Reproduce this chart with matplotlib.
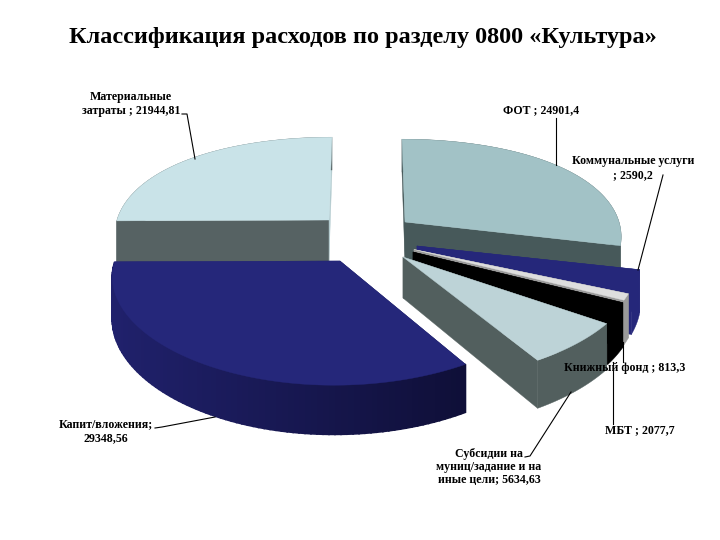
import numpy as np
import matplotlib
matplotlib.use("Agg")
import matplotlib.pyplot as plt
from matplotlib.patches import Polygon
from matplotlib.colors import to_rgb

# data, clockwise from twelve o'clock
categories = ["ФОТ", "Коммунальные услуги", "Книжный фонд", "МБТ",
              "Субсидии на муниц/задание и на иные цели", "Капит/вложения",
              "Материальные затраты"]
values = [24901.4, 2590.2, 813.3, 2077.7, 5634.63, 29348.56, 21944.81]
value_labels = ["24901,4", "2590,2", "813,3", "2077,7", "5634,63", "29348,56", "21944,81"]
title = "Классификация расходов по разделу 0800 «Культура»"

# exploded-slice layout, per slice
apex_x = [405, 417, 414, 413, 403, 340, 329]
apex_y = [222, 246, 249.5, 252, 257, 261, 220]
radius_x = [214, 222, 222, 222, 232, 225, 212]
lean = [3, 0, 0, 0, 0, -6, -3]
top_col = ["#A2C2C6", "#25277A", "#DEDEDE", "#000000", "#BDD3D7", "#25277A", "#C9E3E8"]
side_col = ["#47595A", "#25277A", "#9A9A9A", "#000000", "#525F5E", "#1B1C5E", "#566263"]
end_cut_col = ["#47595A", "#25277A", "#9A9A9A", "#000000", "#525F5E", "#1B1C5E", "#B3CBCF"]
draw_order = [6, 0, 1, 2, 3, 4, 5]
RY, KX, KY, DEPTH, KD = 103.5, 0.13, 0.2, 41, 0.2

fig = plt.figure(figsize=(7.2, 5.4), dpi=100)
ax = fig.add_axes([0, 0, 1, 1])
ax.set_xlim(0, 720)
ax.set_ylim(540, 0)
ax.axis("off")

total = sum(values)
edges = np.concatenate([[0], np.cumsum(values)]) / total * 2 * np.pi


def project(i, t):
    u, v = np.sin(t), -np.cos(t)
    x = apex_x[i] + radius_x[i] * u * (1 + KX * v) + lean[i] * v
    y = apex_y[i] + RY * v * (1 + KY * v)
    d = DEPTH * (1 + KD * v)
    return x, y, d


def fill(pts, c, z, lw=0.3):
    ax.add_patch(Polygon(pts, closed=True, facecolor=c, edgecolor=c, lw=lw, zorder=z))


dark_left, dark_right = np.array(to_rgb("#20216C")), np.array(to_rgb("#0F0F38"))
for z, i in enumerate(draw_order):
    t = np.linspace(edges[i], edges[i + 1], 90)
    x, y, d = project(i, t)
    ax0, ay0, d0 = apex_x[i], apex_y[i], DEPTH
    # cut faces
    fill([(ax0, ay0), (x[0], y[0]), (x[0], y[0] + d[0]), (ax0, ay0 + d0)], side_col[i], 10 + z)
    fill([(ax0, ay0), (x[-1], y[-1]), (x[-1], y[-1] + d[-1]), (ax0, ay0 + d0)], end_cut_col[i], 10 + z)
    # rim side
    if categories[i] == "Капит/вложения":
        for j in range(len(t) - 1):
            f = (x[j] - x.min()) / (x.max() - x.min())
            c = dark_left * (1 - f) + dark_right * f
            fill([(x[j], y[j]), (x[j + 1], y[j + 1]), (x[j + 1], y[j + 1] + d[j + 1]), (x[j], y[j] + d[j])], c, 10 + z, lw=1.2)
    else:
        fill(np.column_stack([np.r_[x, x[::-1]], np.r_[y, (y + d)[::-1]]]), side_col[i], 10 + z)
    # top
    fill(np.column_stack([np.r_[ax0, x], np.r_[ay0, y]]), top_col[i], 10 + z)

font = dict(family="Liberation Serif", fontweight="bold", color="black", zorder=50)
ax.text(363, 37, title, fontsize=17.5, ha="center", va="center", **font)

labels = [
    (541, 110, f"{categories[0]} ; {value_labels[0]}"),
    (633, 168, f"Коммунальные услуги\n; {value_labels[1]}"),
    (625, 368, f"{categories[2]} ; {value_labels[2]}"),
    (640, 430, f"{categories[3]} ; {value_labels[3]}"),
    (489, 467, f"Субсидии на\nмуниц/задание и на\nиные цели; {value_labels[4]}"),
    (106, 431, f"{categories[5]};\n{value_labels[5]}"),
    (131, 104, f"Материальные\nзатраты ; {value_labels[6]}"),
]
for lx, ly, s in labels:
    ax.text(lx, ly, s, fontsize=8.6, ha="center", va="center", linespacing=1.15, **font)

leaders = [
    ([556, 556], [118, 165]),
    ([663, 638], [175, 270]),
    ([623, 623], [342, 362]),
    ([613, 613], [362, 424]),
    ([525, 530, 571], [457, 456, 392]),
    ([155, 162, 215], [428, 427, 417]),
    ([182, 187, 195], [114, 114, 159]),
]
for lx, ly in leaders:
    ax.plot(lx, ly, color="black", lw=0.8, zorder=40)

fig.savefig("out.png", dpi=100)
